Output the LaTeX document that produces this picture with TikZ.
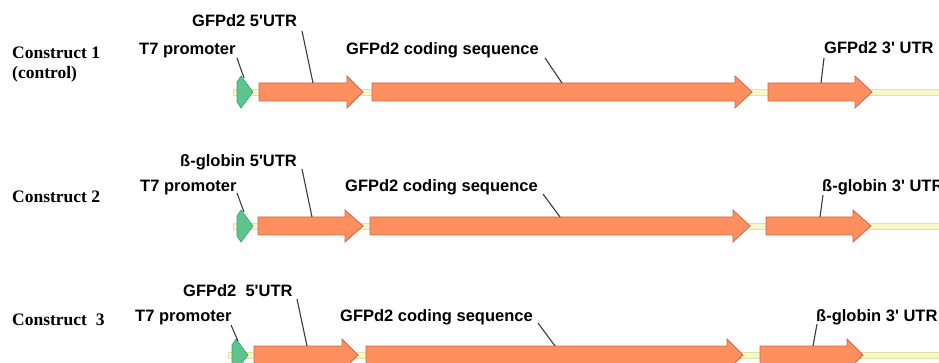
\documentclass[tikz,border=0pt]{standalone}
\usepackage{fontspec}
\newfontfamily\labfont{Liberation Sans}[Ligatures=TeXOff]
\newfontfamily\conFont{Liberation Serif}
\definecolor{orfill}{HTML}{FF8F5E}
\definecolor{oredge}{HTML}{C86A4C}
\definecolor{grfill}{HTML}{5CC48E}
\definecolor{gredge}{HTML}{3E9E6C}
\definecolor{bbfill}{HTML}{F7F7C8}
\definecolor{bbedge}{HTML}{E2E2A6}
\definecolor{leadc}{HTML}{3C3C3C}
\newcommand\drawOr[5]{% name, x start, head start, tip, y centre
  \path[orarrow] (#2,#5-9) -- (#3,#5-9) -- (#3,#5-16) -- (#4,#5) -- (#3,#5+16) -- (#3,#5+9) -- (#2,#5+9) -- cycle;
  \coordinate (#1) at (#2,#5);}
\newcommand\drawGr[3]{% name, x start, y centre
  \path[grarrow] (#2,#3-10) -- (#2+4,#3-16) -- (#2+16,#3) -- (#2+4,#3+16) -- (#2,#3+10) -- cycle;
  \coordinate (#1) at (#2,#3);}
\newcommand\drawBb[3]{% name, x start, y centre
  \path[backbone] (#2,#3-3) rectangle (945,#3+3);
  \coordinate (#1) at (#2,#3);}
\begin{document}
\begin{tikzpicture}[x=1pt,y=-1pt,
  lab/.style={font=\labfont\bfseries\fontsize{16.5}{18}\selectfont, anchor=base west, inner sep=0pt},
  con/.style={font=\conFont\bfseries\fontsize{17.5}{21}\selectfont, anchor=base west, inner sep=0pt},
  orarrow/.style={fill=orfill, draw=oredge, line width=0.8pt, line join=miter},
  grarrow/.style={fill=grfill, draw=gredge, line width=0.6pt, line join=miter},
  backbone/.style={fill=bbfill, draw=bbedge, line width=0.6pt},
  leader/.style={draw=leadc, line width=1.1pt}]
\useasboundingbox (0,0) rectangle (939,363);
\clip (0,0) rectangle (939,363);
\fill[white] (0,0) rectangle (939,363);

% ---------- Construct 1 ----------
\node[con] (c1) at (12,59) {Construct 1};
\node[con] (c1b) at (12,79) {(control)};
\drawBb{bb1}{233}{92}
\drawGr{g1}{237}{92}
\drawOr{a11}{259}{347}{363}{92}
\drawOr{a12}{372}{735}{752}{92}
\drawOr{a13}{768}{855}{872}{92}
\node[lab] (t71) at (139,55) {T7 promoter};
\node[lab] (u51) at (192,27) {GFPd2 5'UTR};
\node[lab] (cs1) at (346,55) {GFPd2 coding sequence};
\node[lab] (u31) at (824,54) {GFPd2 3' UTR};
\coordinate (t71s) at (237,58); \coordinate (t71e) at (244,78);
\coordinate (u51s) at (302,31); \coordinate (u51e) at (313,83);
\coordinate (cs1s) at (545,58); \coordinate (cs1e) at (562,83);
\coordinate (u31s) at (824,58); \coordinate (u31e) at (821,83);
\draw[leader] (t71s) -- (t71e);
\draw[leader] (u51s) -- (u51e);
\draw[leader] (cs1s) -- (cs1e);
\draw[leader] (u31s) -- (u31e);

% ---------- Construct 2 ----------
\node[con] (c2) at (12,203) {Construct 2};
\drawBb{bb2}{233}{226}
\drawGr{g2}{237}{226}
\drawOr{a21}{258}{345}{363}{226}
\drawOr{a22}{370}{733}{750}{226}
\drawOr{a23}{766}{853}{871}{226}
\node[lab] (t72) at (140,192) {T7 promoter};
\node[lab] (u52) at (180,167) {ß-globin 5'UTR};
\node[lab] (cs2) at (345,192) {GFPd2 coding sequence};
\node[lab] (u32) at (822,192) {ß-globin 3' UTR};
\coordinate (t72s) at (237,193); \coordinate (t72e) at (244,212);
\coordinate (u52s) at (302,169); \coordinate (u52e) at (312,217);
\coordinate (cs2s) at (543,194); \coordinate (cs2e) at (560,217);
\coordinate (u32s) at (823,195); \coordinate (u32e) at (820,217);
\draw[leader] (t72s) -- (t72e);
\draw[leader] (u52s) -- (u52e);
\draw[leader] (cs2s) -- (cs2e);
\draw[leader] (u32s) -- (u32e);

% ---------- Construct 3 ----------
\node[con] (c3) at (12,325) {Construct\ \ 3};
\drawBb{bb3}{228}{355}
\drawGr{g3}{232}{355}
\drawOr{a31}{254}{342}{358}{355}
\drawOr{a32}{366}{727}{743}{355}
\drawOr{a33}{760}{847}{863}{355}
\node[lab] (t73) at (135,321) {T7 promoter};
\node[lab] (u53) at (183,296) {GFPd2\ \ 5'UTR};
\node[lab] (cs3) at (340,321) {GFPd2 coding sequence};
\node[lab] (u33) at (816,321) {ß-globin 3' UTR};
\coordinate (t73s) at (231,325); \coordinate (t73e) at (238,341);
\coordinate (u53s) at (297,299); \coordinate (u53e) at (307,346);
\coordinate (cs3s) at (538,323); \coordinate (cs3e) at (555,346);
\coordinate (u33s) at (817,324); \coordinate (u33e) at (813,346);
\draw[leader] (t73s) -- (t73e);
\draw[leader] (u53s) -- (u53e);
\draw[leader] (cs3s) -- (cs3e);
\draw[leader] (u33s) -- (u33e);
\end{tikzpicture}
\end{document}
